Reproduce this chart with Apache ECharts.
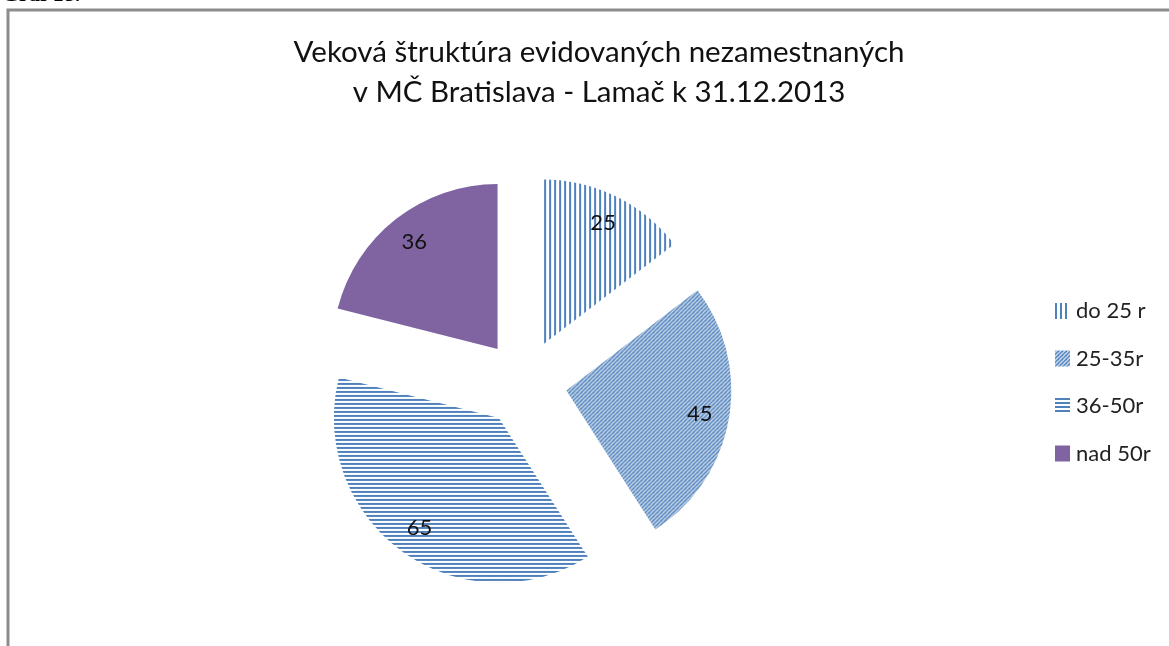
<!DOCTYPE html>
<html>
<head>
<meta charset="utf-8">
<script src="https://cdn.jsdelivr.net/npm/echarts@6/dist/echarts.min.js"></script>
<style>
  html, body { margin: 0; padding: 0; background: #fff; }
  #chart { width: 1169px; height: 646px; }
</style>
</head>
<body>
<div id="chart"></div>
<script>
// data
var categories = ['do 25 r', '25-35r', '36-50r', 'nad 50r'];
var values = [25, 45, 65, 36];
var titleLines = ['Veková štruktúra evidovaných nezamestnaných', 'v MČ Bratislava - Lamač k 31.12.2013'];

var BLUE = '#4f81bd';
var PURPLE = '#8064a2';

// stripe patterns like the old office fills
function stripes(kind) {
  var c = document.createElement('canvas');
  var n = kind === 'vertical' ? 5 : 4;
  c.width = n; c.height = n;
  var ctx = c.getContext('2d');
  ctx.fillStyle = BLUE;
  if (kind === 'vertical') {
    ctx.fillRect(0, 0, 2, n);
  } else if (kind === 'horizontal') {
    ctx.fillRect(0, 0, n, 2);
  } else {
    ctx.strokeStyle = BLUE;
    ctx.lineWidth = 1.8;
    for (var k = -1; k <= 1; k++) {
      ctx.beginPath();
      ctx.moveTo(-1 + k * n, n + 1);
      ctx.lineTo(n + 1 + k * n, -1);
      ctx.stroke();
    }
  }
  return { image: c, repeat: 'repeat' };
}

var fills = [stripes('vertical'), stripes('diagonal'), stripes('horizontal'), PURPLE];

var pieData = categories.map(function (name, i) {
  return { name: name, value: values[i], selected: true, itemStyle: { color: fills[i] } };
});
var labelData = categories.map(function (name, i) {
  return { name: name, value: values[i], selected: true };
});

var chart = echarts.init(document.getElementById('chart'), null, { renderer: 'canvas' });

var option = {
  backgroundColor: '#fff',
  animation: false,
  title: {
    text: titleLines.join('\n'),
    left: 594,
    textAlign: 'center',
    top: 27,
    textStyle: {
      fontFamily: 'Lato',
      fontSize: 29.5,
      fontWeight: 'normal',
      color: '#111',
      lineHeight: 40
    }
  },
  legend: {
    orient: 'vertical',
    left: 1050,
    top: 295,
    itemWidth: 15,
    itemHeight: 16,
    itemGap: 25.5,
    icon: 'rect',
    selectedMode: false,
    data: categories,
    textStyle: { fontFamily: 'Lato', fontSize: 22, color: '#222', padding: [0, 0, 0, 1] }
  },
  graphic: [
    {
      type: 'rect',
      silent: true,
      shape: { x: 8, y: 10, width: 1300, height: 800 },
      style: { fill: 'none', stroke: '#8c8c8c', lineWidth: 3 }
    },
    {
      type: 'text',
      silent: true,
      x: 2, y: 6,
      style: { text: 'Graf 18.', fontFamily: 'Liberation Serif', fontWeight: 'bold', fontSize: 22, fill: '#000', textVerticalAlign: 'bottom' }
    }
  ],
  series: [
    {
      type: 'pie',
      center: [524, 383],
      radius: [0, 165],
      startAngle: 90,
      selectedMode: 'multiple',
      selectedOffset: 43,
      silent: true,
      label: { show: false },
      labelLine: { show: false },
      itemStyle: { borderWidth: 0 },
      select: { itemStyle: { borderWidth: 0 } },
      emphasis: { disabled: true },
      data: pieData
    },
    {
      // transparent copy used only to place the value labels further out
      type: 'pie',
      center: [524, 383],
      radius: [0, 265],
      startAngle: 90,
      selectedMode: 'multiple',
      selectedOffset: 43,
      silent: true,
      itemStyle: { color: 'rgba(0,0,0,0)', borderWidth: 0 },
      emphasis: { disabled: true },
      labelLine: { show: false },
      label: {
        show: true,
        position: 'inside',
        formatter: '{c}',
        fontFamily: 'Lato',
        fontSize: 22,
        color: '#111'
      },
      data: labelData
    }
  ]
};

chart.setOption(option);
</script>
</body>
</html>
